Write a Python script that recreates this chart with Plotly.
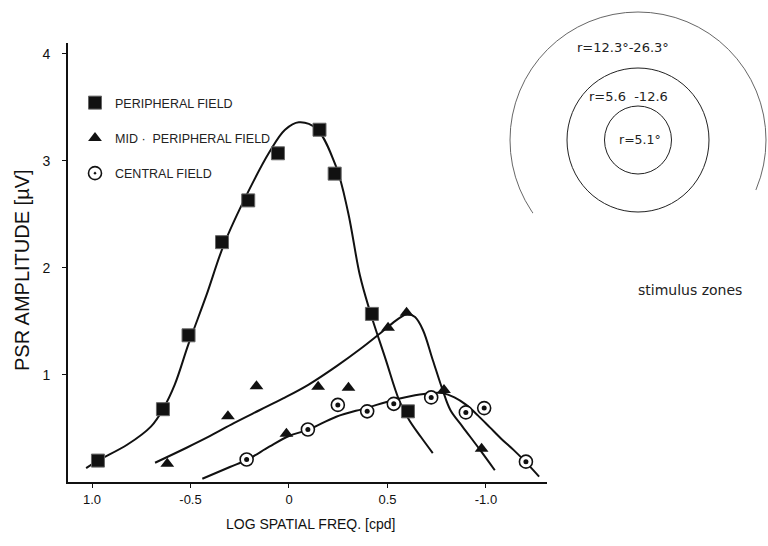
import plotly.graph_objects as go

# ---------------- data ----------------
periph_x = [-0.97, -0.64, -0.51, -0.34, -0.207, -0.056, 0.155, 0.232, 0.421, 0.604]
periph_y = [0.20, 0.68, 1.37, 2.24, 2.63, 3.07, 3.29, 2.88, 1.57, 0.66]

mid_x = [-0.618, -0.31, -0.165, -0.013, 0.148, 0.302, 0.503, 0.597, 0.787, 0.978]
mid_y = [0.17, 0.615, 0.895, 0.45, 0.89, 0.88, 1.44, 1.58, 0.86, 0.31]

central_x = [-0.215, 0.096, 0.248, 0.397, 0.532, 0.722, 0.898, 0.991, 1.203]
central_y = [0.21, 0.49, 0.72, 0.66, 0.73, 0.79, 0.65, 0.69, 0.19]

# fitted curves
periph_fit_x = [-1.03, -0.97, -0.82, -0.70, -0.64, -0.58, -0.51, -0.42, -0.33, -0.21,
                -0.10, -0.02, 0.05, 0.14, 0.24, 0.30, 0.36, 0.41, 0.49, 0.56, 0.61, 0.67, 0.73]
periph_fit_y = [0.13, 0.20, 0.35, 0.52, 0.68, 0.91, 1.29, 1.74, 2.22, 2.70,
                3.08, 3.29, 3.36, 3.30, 2.94, 2.52, 1.93, 1.60, 1.15, 0.76, 0.58, 0.42, 0.27]

mid_fit_x = [-0.68, -0.52, -0.40, -0.28, -0.15, -0.03, 0.10, 0.24, 0.36, 0.45, 0.51, 0.56,
             0.60, 0.64, 0.68, 0.73, 0.78, 0.82, 0.88, 0.97, 1.045]
mid_fit_y = [0.18, 0.32, 0.43, 0.55, 0.67, 0.78, 0.91, 1.08, 1.24, 1.37, 1.46, 1.53,
             1.57, 1.54, 1.42, 1.14, 0.86, 0.67, 0.52, 0.30, 0.11]

central_fit_x = [-0.44, -0.30, -0.21, -0.10, 0.00, 0.10, 0.24, 0.39, 0.54, 0.64, 0.72, 0.78,
                 0.84, 0.90, 0.96, 1.02, 1.08, 1.14, 1.20, 1.27]
central_fit_y = [0.03, 0.14, 0.21, 0.33, 0.43, 0.49, 0.61, 0.69, 0.77, 0.81, 0.83, 0.83,
                 0.79, 0.72, 0.62, 0.51, 0.40, 0.30, 0.19, 0.05]

x_tickvals = [-1.0, -0.5, 0.0, 0.5, 1.0]
x_ticktext = ["1.0", "-0.5", "0", "0.5", "-1.0"]
y_tickvals = [1, 2, 3, 4]
y_ticktext = ["1", "2", "3", "4"]

series_names = ["PERIPHERAL FIELD", "MID ·  PERIPHERAL FIELD", "CENTRAL FIELD"]

# ---------------- layout geometry ----------------
W, H = 768, 546
ML, MR, MT, MB = 68, 221, 43, 64
PW, PH = W - ML - MR, H - MT - MB
FONT = "Liberation Sans, Arial, sans-serif"
FONT2 = "DejaVu Sans, Liberation Sans, sans-serif"
INK = "#111111"
TXT = "#222222"


def px(xp):
    return (xp - ML) / PW


def py(yp):
    return (H - MB - yp) / PH


fig = go.Figure()

line_style = dict(color=INK, width=2, shape="spline", smoothing=1.0)
fig.add_trace(go.Scatter(x=periph_fit_x, y=periph_fit_y, mode="lines", line=line_style,
                         showlegend=False, hoverinfo="skip"))
fig.add_trace(go.Scatter(x=mid_fit_x, y=mid_fit_y, mode="lines", line=line_style,
                         showlegend=False, hoverinfo="skip"))
fig.add_trace(go.Scatter(x=central_fit_x, y=central_fit_y, mode="lines", line=line_style,
                         showlegend=False, hoverinfo="skip"))

fig.add_trace(go.Scatter(
    x=periph_x, y=periph_y, mode="markers", name=series_names[0], legendgroup="a",
    marker=dict(symbol="square", size=13, color=INK, line=dict(color="#666666", width=1))))
fig.add_trace(go.Scatter(
    x=mid_x, y=mid_y, mode="markers", name=series_names[1], legendgroup="b",
    marker=dict(symbol="triangle-up", size=12, color=INK, line=dict(width=0))))
fig.add_trace(go.Scatter(
    x=central_x, y=central_y, mode="markers", name=series_names[2], legendgroup="c",
    marker=dict(symbol="circle-dot", size=13, color="white", line=dict(color=INK, width=1.6))))
fig.add_trace(go.Scatter(
    x=central_x, y=central_y, mode="markers", showlegend=False, hoverinfo="skip",
    marker=dict(symbol="circle", size=5, color=INK, line=dict(width=0))))

# stimulus zone diagram
cx, cy = 638, 140
shapes = [
    dict(type="circle", xref="paper", yref="paper",
         x0=px(cx - 128), x1=px(cx + 128), y0=py(cy + 128), y1=py(cy - 128),
         line=dict(color="#555555", width=0.9), layer="above"),
    dict(type="path", xref="paper", yref="paper",
         path="M{},{} L{},{} L{},{} L{},{} L{},{} Z".format(
             px(533), py(213), px(638), py(152), px(756), py(190),
             px(776), py(282), px(512), py(282)),
         fillcolor="white", line=dict(width=0), layer="above"),
    dict(type="circle", xref="paper", yref="paper",
         x0=px(cx - 71), x1=px(cx + 71), y0=py(cy + 72), y1=py(cy - 72),
         line=dict(color="#222222", width=1), layer="above"),
    dict(type="circle", xref="paper", yref="paper",
         x0=px(cx - 33.5), x1=px(cx + 33.5), y0=py(cy + 34), y1=py(cy - 34),
         line=dict(color="#222222", width=1), layer="above"),
]


def note(text, x, y, size, family=FONT, xanchor="center", angle=0, color=TXT):
    return dict(text=text, x=px(x), y=py(y), xref="paper", yref="paper",
                xanchor=xanchor, yanchor="middle", textangle=angle, showarrow=False,
                font=dict(size=size, color=color, family=family))


annotations = [
    note("r=12.3°-26.3°", 623, 48, 13, FONT2),
    note("r=5.6  -12.6", 628, 96, 13, FONT2),
    note("r=5.1°", 640, 139, 12.5, FONT2),
    note("stimulus zones", 690, 290, 14, FONT2),
    note("PSR AMPLITUDE [µV]", 22, 270, 20, FONT, angle=-90, color=INK),
    note("LOG SPATIAL FREQ. [cpd]", 310, 524, 14, FONT, color=INK),
]

fig.update_layout(
    width=W, height=H,
    margin=dict(l=ML, r=MR, t=MT, b=MB, pad=0),
    paper_bgcolor="white", plot_bgcolor="white",
    font=dict(family=FONT, color=INK),
    shapes=shapes, annotations=annotations,
    legend=dict(x=px(75), y=py(88), xanchor="left", yanchor="top",
                bgcolor="rgba(0,0,0,0)", font=dict(size=12.5, color=TXT, family=FONT),
                tracegroupgap=16, traceorder="grouped"),
    xaxis=dict(range=[-1.122, 1.310], tickvals=x_tickvals, ticktext=x_ticktext,
               showgrid=False, zeroline=False, showline=True, linecolor=INK, linewidth=2,
               ticks="outside", ticklen=4, tickcolor=INK, tickfont=dict(size=13, family=FONT)),
    yaxis=dict(range=[0, 4.1], tickvals=y_tickvals, ticktext=y_ticktext,
               showgrid=False, zeroline=False, showline=True, linecolor=INK, linewidth=2,
               ticks="outside", ticklen=4, tickcolor=INK, ticklabelstandoff=9,
               tickfont=dict(size=14, family=FONT)),
)

fig.write_html("out.html")
